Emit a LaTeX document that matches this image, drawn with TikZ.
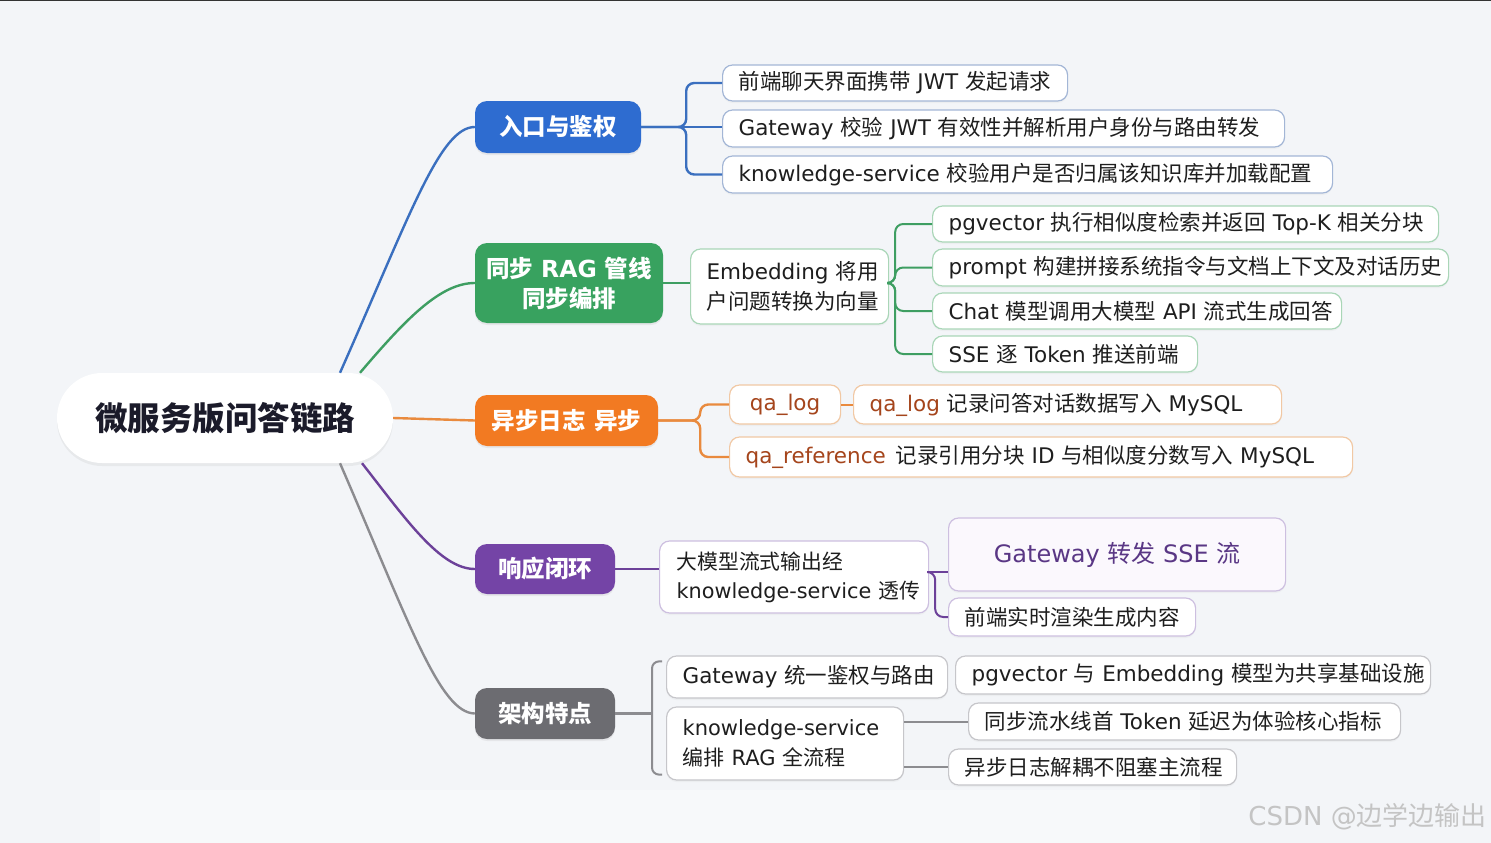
\documentclass[tikz,border=0pt]{standalone}
\usepackage{fontspec}
\setmainfont{DejaVu Sans}
\newfontfamily\cjkfont{Noto Sans CJK SC}
\usetikzlibrary{shadows,calc}
% switch CJK characters to the CJK font
\XeTeXinterchartokenstate=1
\newcount\cjkcnt
\cjkcnt="4E00
\loop\ifnum\cjkcnt<"A000 \XeTeXcharclass\cjkcnt=10 \advance\cjkcnt by 1 \repeat
\cjkcnt="3000
\loop\ifnum\cjkcnt<"3040 \XeTeXcharclass\cjkcnt=10 \advance\cjkcnt by 1 \repeat
\XeTeXinterchartoks 0 10 = {\begingroup\cjkfont}
\XeTeXinterchartoks 4095 10 = {\begingroup\cjkfont}
\XeTeXinterchartoks 10 0 = {\endgroup}
\XeTeXinterchartoks 10 4095 = {\endgroup}
\newcommand\fitl[2]{\makebox[\dimexpr#1pt-32pt\relax][l]{#2}}
\definecolor{bg}{HTML}{F3F5F8}
\definecolor{rootText}{HTML}{1B1B2A}
\definecolor{leafText}{HTML}{1E1E1E}
\definecolor{cblue}{HTML}{2E6CD0}
\definecolor{lblue}{HTML}{3A6FBF}
\definecolor{bluebd}{HTML}{A3B6D6}
\definecolor{cgreen}{HTML}{38A25F}
\definecolor{lgreen}{HTML}{3E9E62}
\definecolor{greenbd}{HTML}{A9D6B7}
\definecolor{corange}{HTML}{F27A22}
\definecolor{lorange}{HTML}{E98A3E}
\definecolor{orangebd}{HTML}{F1C8A4}
\definecolor{qatext}{HTML}{A5451C}
\definecolor{cpurple}{HTML}{7444A6}
\definecolor{lpurple}{HTML}{6C4199}
\definecolor{purplebd}{HTML}{CDBFE0}
\definecolor{purplefill}{HTML}{FBF8FD}
\definecolor{purpletext}{HTML}{5A3785}
\definecolor{cgray}{HTML}{6C6C71}
\definecolor{lgray}{HTML}{8C8C90}
\definecolor{graybd}{HTML}{C6C6CA}
\definecolor{wmgray}{HTML}{C4C4C4}
\begin{document}
\begin{tikzpicture}[x=1pt,y=-1pt,
  rootnode/.style={fill=white, rounded corners=45pt, minimum width=336pt, minimum height=90pt, inner sep=0pt,
    font=\fontsize{32.5}{38}\selectfont\bfseries, text=rootText,
    drop shadow={shadow xshift=0pt, shadow yshift=-3pt, opacity=0.10}},
  branch/.style={rounded corners=12pt, text=white, font=\fontsize{23.5}{30}\selectfont\bfseries, inner sep=0pt, align=center,
    drop shadow={shadow xshift=0pt, shadow yshift=-2pt, opacity=0.12}},
  leaf/.style={fill=white, rounded corners=10pt, line width=1.2pt, font=\fontsize{21.5}{29.5}\selectfont,
    inner xsep=16pt, inner ysep=0pt, text=leafText, anchor=west,
    drop shadow={shadow xshift=0pt, shadow yshift=-2pt, opacity=0.06}},
  leafb/.style={leaf, draw=bluebd},
  leafg/.style={leaf, draw=greenbd},
  leafo/.style={leaf, draw=orangebd},
  leafp/.style={leaf, draw=purplebd},
  leafk/.style={leaf, draw=graybd},
  lk/.style={line width=2.4pt},
  lk2/.style={line width=2pt}
]
\useasboundingbox (0,0) rectangle (1491,843);
\fill[bg] (0,0) rectangle (1491,843);
\fill[white, opacity=0.4] (100,790) rectangle (1200,843);
\draw[line width=1.5pt, black!80] (0,0.75) -- (1491,0.75);

% root and branches
\node[rootnode] (root) at (225,418) {微服务版问答链路};
\node[branch, fill=cblue, minimum width=166pt, minimum height=52pt] (b1) at (558,127) {入口与鉴权};
\node[branch, fill=cgreen, minimum width=188pt, minimum height=80pt] (b2) at (569,283) {同步 RAG 管线\\同步编排};
\node[branch, fill=corange, minimum width=183pt, minimum height=51pt] (b3) at (566.5,420.5) {异步日志 异步};
\node[branch, fill=cpurple, minimum width=140pt, minimum height=50pt] (b4) at (545,569) {响应闭环};
\node[branch, fill=cgray, minimum width=140pt, minimum height=51pt] (b5) at (545,713.5) {架构特点};

% branch 1
\node[leafb, minimum height=36pt] (l11) at (722,83) {\fitl{345}{前端聊天界面携带 JWT 发起请求}};
\node[leafb, minimum height=37pt] (l12) at (722,128.5) {\fitl{562}{Gateway 校验 JWT 有效性并解析用户身份与路由转发}};
\node[leafb, minimum height=37pt] (l13) at (722,174.5) {\fitl{610}{knowledge-service 校验用户是否归属该知识库并加载配置}};

% branch 2
\node[leafg, minimum height=75pt, text width=166pt, align=left, inner xsep=16pt] (m2) at (690,286.5) {\mbox{Embedding 将用}\\\mbox{户问题转换为向量}};
\node[leafg, minimum height=36pt] (l21) at (932,224) {\fitl{506}{pgvector 执行相似度检索并返回 Top-K 相关分块}};
\node[leafg, minimum height=37pt] (l22) at (932,267.5) {\fitl{516}{prompt 构建拼接系统指令与文档上下文及对话历史}};
\node[leafg, minimum height=36pt] (l23) at (932,311) {\fitl{409}{Chat 模型调用大模型 API 流式生成回答}};
\node[leafg, minimum height=36pt] (l24) at (932,354) {\fitl{265}{SSE 逐 Token 推送前端}};

% branch 3
\node[leafo, minimum width=111pt, minimum height=39pt, inner xsep=0pt, text=qatext] (l31) at (729,404.5) {qa\_log};
\node[leafo, minimum height=39pt] (l32) at (853,404.5) {\fitl{428}{{\color{qatext}qa\_log} 记录问答对话数据写入 MySQL}};
\node[leafo, minimum height=40pt] (l33) at (729,457) {\fitl{623}{{\color{qatext}qa\_reference}\hspace{10pt}记录引用分块 ID 与相似度分数写入 MySQL}};

% branch 4
\node[leafp, minimum height=72pt, text width=235pt, align=left, inner xsep=17pt, font=\fontsize{20.8}{29}\selectfont] (m4) at (659,577) {\mbox{大模型流式输出经}\\\mbox{knowledge-service 透传}};
\node[leafp, fill=purplefill, minimum width=337pt, minimum height=73pt, inner xsep=0pt, text=purpletext, font=\fontsize{24}{30}\selectfont] (l41) at (948,554.5) {Gateway 转发 SSE 流};
\node[leafp, minimum height=38pt] (l42) at (948,617) {\fitl{247}{前端实时渲染生成内容}};

% branch 5
\node[leafk, minimum height=42pt] (l51) at (666,677) {\fitl{281}{Gateway 统一鉴权与路由}};
\node[leafk, minimum height=73pt, text width=205pt, align=left, font=\fontsize{21}{29.5}\selectfont] (l52) at (666,743.5) {\mbox{knowledge-service}\\\mbox{编排 RAG 全流程}};
\node[leafk, minimum height=38pt] (l53) at (955,675) {\fitl{475}{pgvector 与 Embedding 模型为共享基础设施}};
\node[leafk, minimum height=37pt] (l54) at (968,721.5) {\fitl{432}{同步流水线首 Token 延迟为体验核心指标}};
\node[leafk, minimum height=36pt] (l55) at (948,767) {\fitl{288}{异步日志解耦不阻塞主流程}};

% watermark
\node[anchor=east, text=wmgray, font=\fontsize{26}{30}\selectfont, inner sep=0pt] (wm) at (1487,817) {CSDN @边学边输出};

% root connectors
\draw[lk, lblue] ([xshift=115pt]root.north) .. controls (410,215) and (440,127) .. (b1.west);
\draw[lk, lgreen] ([xshift=135pt]root.north) .. controls (405,320) and (440,283) .. (b2.west);
\draw[lk, lorange] (root.east) -- (b3.west);
\draw[lk, lpurple] ([xshift=137pt]root.south) .. controls (405,518) and (440,569) .. (b4.west);
\draw[lk, lgray] ([xshift=115pt]root.south) .. controls (410,625) and (440,713) .. (b5.west);

% branch 1 connectors
\draw[lk, lblue, rounded corners=8pt] (b1.east) -- +(45,0) |- (l11.west);
\draw[lk, lblue] (b1.east) -- (b1.east -| l12.west);
\draw[lk, lblue, rounded corners=8pt] (b1.east) -- +(45,0) |- (l13.west);

% branch 2 connectors
\draw[lk, lgreen] (b2.east) -- (b2.east -| m2.west);
\coordinate (g0) at ([yshift=3.5pt]m2.east);
\draw[lk2, lgreen, rounded corners=8pt] (g0) -- +(6,0) |- (l21.west);
\draw[lk2, lgreen, rounded corners=8pt] (g0) -- +(6,0) |- (l22.west);
\draw[lk2, lgreen, rounded corners=8pt] (g0) -- +(6,0) |- (l23.west);
\draw[lk2, lgreen, rounded corners=8pt] (g0) -- +(6,0) |- (l24.west);

% branch 3 connectors
\draw[lk, lorange, rounded corners=8pt] (b3.east) -- +(42,0) |- (l31.west);
\draw[lk, lorange, rounded corners=8pt] (b3.east) -- +(42,0) |- (l33.west);
\draw[lk2, lorange] (l31.east) -- (l32.west);

% branch 4 connectors
\draw[lk, lpurple] (b4.east) -- (b4.east -| m4.west);
\coordinate (p0) at ([yshift=5pt]m4.east);
\draw[lk2, lpurple] (p0) -- (p0 -| l41.west);
\draw[lk2, lpurple, rounded corners=8pt] (p0) -- +(6,0) |- (l42.west);

% branch 5 connectors
\coordinate (br5) at ($(l51.north west)+(-14,0)$);
\draw[lk, lgray] (b5.east) -- (b5.east -| br5);
\draw[lk2, lgray, rounded corners=7pt] ($(l51.north west)+(-4,6)$) -- ($(l51.north west)+(-14,6)$) -- ($(l52.south west)+(-14,-6)$) -- ($(l52.south west)+(-4,-6)$);
\draw[lk2, lgray] (l54.west) -- (l54.west -| l52.east);
\draw[lk2, lgray] (l55.west) -- (l55.west -| l52.east);
\end{tikzpicture}
\end{document}
